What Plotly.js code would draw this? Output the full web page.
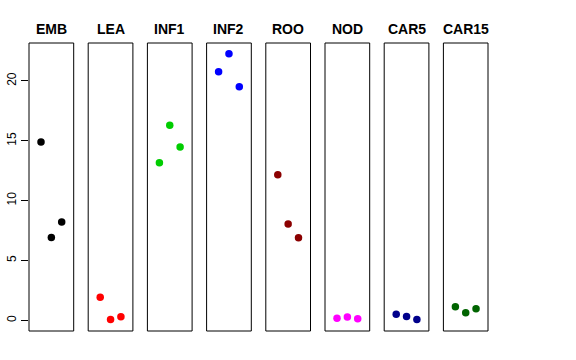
<!DOCTYPE html>
<html>
<head>
<meta charset="utf-8">
<script src="https://cdn.plot.ly/plotly-3.0.1.min.js"></script>
<style>html,body{margin:0;padding:0;background:#fff}#chart{width:576px;height:360px}</style>
</head>
<body>
<div id="chart"></div>
<script>
const tissues = ["EMB", "LEA", "INF1", "INF2", "ROO", "NOD", "CAR5", "CAR15"];
const colors = ["#000000", "#FF0000", "#00CD00", "#0000FF", "#8B0000", "#FF00FF", "#00008B", "#006400"];
const replicate = [1, 2, 3];
const EMB = [14.9, 6.93, 8.21];
const LEA = [1.92, 0.08, 0.30];
const INF1 = [13.17, 16.29, 14.48];
const INF2 = [20.77, 22.27, 19.52];
const ROO = [12.16, 8.04, 6.9];
const NOD = [0.17, 0.28, 0.14];
const CAR5 = [0.5, 0.33, 0.08];
const CAR15 = [1.14, 0.63, 0.97];
const values = [EMB, LEA, INF1, INF2, ROO, NOD, CAR5, CAR15];
const yTicks = [0, 5, 10, 15, 20];

const W = 576, H = 360;
const mL = 29, mR = 88, mT = 43, mB = 29;
const plotW = W - mL - mR;
const panelStep = 59.2, panelW = 44.7;

const traces = [];
const layout = {
  width: W, height: H,
  margin: {l: mL, r: mR, t: mT, b: mB, pad: 0},
  paper_bgcolor: "#fff", plot_bgcolor: "#fff",
  showlegend: false,
  font: {family: "Liberation Sans, Arial, sans-serif", color: "#000"},
  yaxis: {
    range: [-0.89, 23.17], anchor: "x",
    tickvals: yTicks, ticktext: yTicks.map(String),
    ticks: "outside", ticklen: 7, tickwidth: 1, tickcolor: "#000",
    tickangle: -90, tickfont: {size: 12, color: "#000"},
    showgrid: false, zeroline: false, showline: false
  },
  shapes: [], annotations: []
};

tissues.forEach((t, i) => {
  const ax = i === 0 ? "x" : "x" + (i + 1);
  const axKey = i === 0 ? "xaxis" : "xaxis" + (i + 1);
  const d0 = (panelStep * i) / plotW;
  const d1 = (panelStep * i + panelW) / plotW;
  layout[axKey] = {
    domain: [d0, d1], range: [-0.16, 4.16], anchor: "y",
    showticklabels: false, ticks: "", showgrid: false, zeroline: false, showline: false
  };
  traces.push({
    type: "scatter", mode: "markers", x: replicate, y: values[i],
    xaxis: ax, yaxis: "y",
    marker: {color: colors[i], size: 7.5},
    hoverinfo: "skip", cliponaxis: false
  });
  layout.shapes.push({
    type: "rect", xref: ax + " domain", yref: "y domain",
    x0: 0, x1: 1, y0: 0, y1: 1,
    line: {color: "#000", width: 1}, fillcolor: "rgba(0,0,0,0)"
  });
  layout.annotations.push({
    text: "<b>" + t + "</b>", xref: ax + " domain", yref: "paper",
    x: 0.5, y: 1, yshift: 14, xanchor: "center", yanchor: "middle",
    showarrow: false, font: {size: 14, color: "#000", family: "Liberation Sans, Arial, sans-serif"}
  });
});

Plotly.newPlot("chart", traces, layout, {staticPlot: true, displayModeBar: false});
</script>
</body>
</html>
